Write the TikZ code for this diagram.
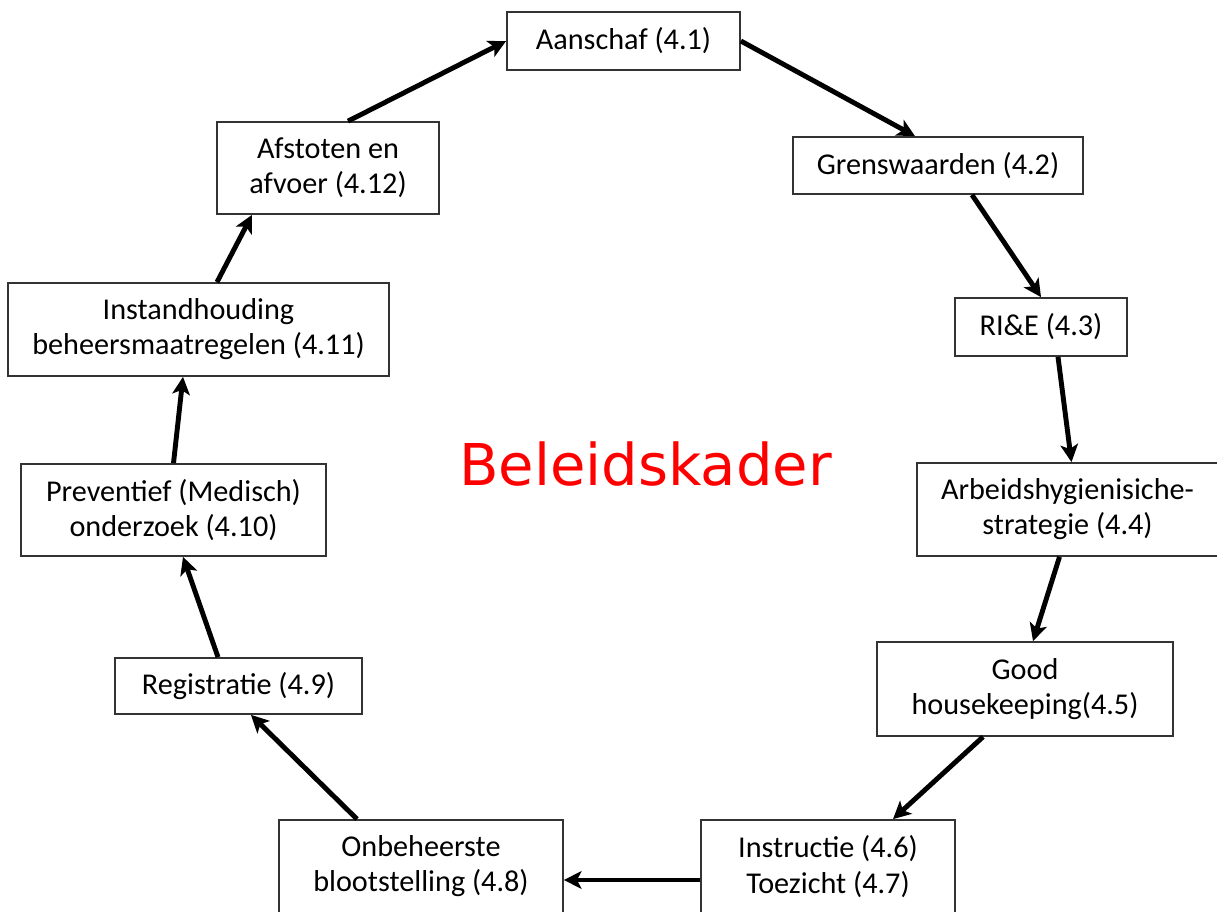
\documentclass[tikz,border=0pt]{standalone}
\usepackage{fontspec}
\setmainfont{Carlito}
\newfontfamily\kaderfont{DejaVu Sans}
\usepackage{tikz}
\usetikzlibrary{arrows.meta}

\begin{document}
\begin{tikzpicture}[x=0.02cm, y=-0.02cm,
    box/.style={draw=black!80, line width=1pt, inner sep=0pt, align=center,
      font=\fontsize{17.2}{20}\selectfont},
    pijl/.style={-{Stealth[length=10pt, width=10pt, inset=2.5pt]}, line width=2.8pt}]
    \useasboundingbox (0, 0) rectangle (1217, 912);
    \node[box, minimum width=4.66cm, minimum height=1.16cm] (AS) at (623.5, 41){Aanschaf (4.1)};
    \node[box, minimum width=5.8cm, minimum height=1.14cm] (GW) at (938, 165.5){Grenswaarden (4.2)};
    \node[box, minimum width=3.44cm, minimum height=1.16cm] (RIE) at (1041, 327){RI\&E (4.3)};
    \node[box, minimum width=6.02cm, minimum height=1.86cm] (AHS) at (1067.5, 509.5){Arbeidshygienisiche-\\strategie (4.4)};
    \node[box, minimum width=5.92cm, minimum height=1.88cm] (GH) at (1025, 689){Good\\housekeeping(4.5)};
    \node[box, minimum width=5.08cm, minimum height=1.86cm] (IT) at (828, 866.5){Instructie (4.6)\\Toezicht (4.7)};
    \node[box, minimum width=5.68cm, minimum height=1.86cm] (OB) at (421, 866.5){Onbeheerste\\blootstelling (4.8)};
    \node[box, minimum width=4.94cm, minimum height=1.12cm] (RG) at (238.5, 686){Registratie (4.9)};
    \node[box, minimum width=6.1cm, minimum height=1.84cm] (PO) at (173.5, 510){Preventief (Medisch)\\onderzoek (4.10)};
    \node[box, minimum width=7.62cm, minimum height=1.86cm] (IB) at (198.5, 329.5){Instandhouding\\beheersmaatregelen (4.11)};
    \node[box, minimum width=4.44cm, minimum height=1.84cm] (AA) at (328, 168){Afstoten en\\afvoer (4.12)};
    \node[font=\kaderfont\fontsize{32.8}{36}\selectfont, text=red, anchor=base] (BK) at (645.5, 485){Beleidskader};
    \draw[pijl] ([xshift=0.4cm]AA.north)--(AS.west);
    \draw[pijl] (AS.east)--([xshift=-0.46cm]GW.north);
    \draw[pijl] ([xshift=0.68cm]GW.south)--(RIE.north);
    \draw[pijl] ([xshift=0.34cm]RIE.south)--([xshift=0.08cm]AHS.north);
    \draw[pijl] ([xshift=-0.16cm]AHS.south)--([xshift=0.16cm]GH.north);
    \draw[pijl] ([xshift=-0.84cm]GH.south)--([xshift=1.3cm]IT.north);
    \draw[pijl] ([yshift=-0.27cm]IT.west)--([yshift=-0.27cm]OB.east);
    \draw[pijl] ([xshift=-1.28cm]OB.north)--([xshift=0.25cm]RG.south);
    \draw[pijl] ([xshift=-0.41cm]RG.north)--([xshift=0.19cm]PO.south);
    \draw[pijl] (PO.north)--([xshift=-0.31cm]IB.south);
    \draw[pijl] ([xshift=0.37cm]IB.north)--([xshift=-1.52cm]AA.south);
\end{tikzpicture}
\end{document}
